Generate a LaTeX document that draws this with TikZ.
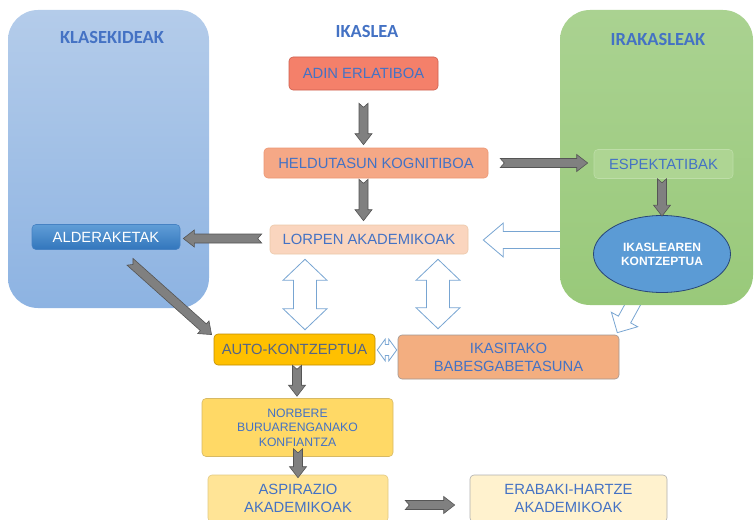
\documentclass[tikz,border=0pt]{standalone}
\usepackage{fontspec}
\setmainfont{Liberation Sans}
\newfontfamily\titlefont{Carlito}
\usetikzlibrary{calc, positioning, backgrounds, shapes.geometric}

\definecolor{txtblue}{RGB}{68,114,196}
\definecolor{autoText}{RGB}{84,100,135}
\definecolor{klaseTop}{RGB}{180,204,234}
\definecolor{klaseBot}{RGB}{141,179,226}
\definecolor{irakTop}{RGB}{170,210,145}
\definecolor{irakBot}{RGB}{153,201,122}
\definecolor{adinFill}{RGB}{244,128,106}
\definecolor{adinDraw}{RGB}{205,95,78}
\definecolor{heldFill}{RGB}{245,168,134}
\definecolor{heldDraw}{RGB}{236,150,115}
\definecolor{lorpenFill}{RGB}{250,213,190}
\definecolor{lorpenDraw}{RGB}{235,200,170}
\definecolor{alderTop}{RGB}{96,157,215}
\definecolor{alderBot}{RGB}{50,118,188}
\definecolor{alderDraw}{RGB}{70,130,195}
\definecolor{espFill}{RGB}{174,213,147}
\definecolor{espDraw}{RGB}{190,222,168}
\definecolor{ellFill}{RGB}{91,155,213}
\definecolor{ellDraw}{RGB}{40,70,120}
\definecolor{autoFill}{RGB}{255,192,0}
\definecolor{autoDraw}{RGB}{190,140,0}
\definecolor{ikasiFill}{RGB}{243,174,128}
\definecolor{ikasiDraw}{RGB}{160,150,145}
\definecolor{norbFill}{RGB}{255,217,102}
\definecolor{norbDraw}{RGB}{215,185,100}
\definecolor{aspirFill}{RGB}{255,228,150}
\definecolor{aspirDraw}{RGB}{225,200,130}
\definecolor{erabFill}{RGB}{255,242,206}
\definecolor{erabDraw}{RGB}{175,175,175}
\definecolor{arrowGray}{RGB}{128,128,128}
\definecolor{arrowDark}{RGB}{85,85,85}
\definecolor{hollowBlue}{RGB}{120,165,210}

\tikzset{
  box/.style={rectangle, rounded corners=4pt, draw, line width=0.6pt, inner sep=2pt,
    align=center, text=txtblue, font=\fontsize{14.8}{18}\selectfont},
  panel/.style={rectangle, rounded corners=30pt, draw=none},
  paneltitle/.style={text=txtblue, font=\titlefont\bfseries\fontsize{18.5}{22}\selectfont},
  blockarrow/.style={fill=arrowGray, draw=arrowDark, line width=0.6pt},
  hollow/.style={fill=white, draw=hollowBlue, line width=0.8pt},
}

% gray block arrow: from, to
\newcommand{\blockarrow}[2]{%
  \path[blockarrow] let \p1=($(#2)-(#1)$), \n1={atan2(\y1,\x1)}, \n2={veclen(\x1,\y1)} in
    [shift={(#1)}, rotate=\n1]
    (0,-4.5) -- (\n2-11,-4.5) -- (\n2-11,-8.5) -- (\n2,0) -- (\n2-11,8.5)
    -- (\n2-11,4.5) -- (0,4.5) -- (4,0) -- cycle;}

% hollow arrow: from, to, shaft half width, head half width, head length
\newcommand{\hollowarrow}[5]{%
  \path[hollow] let \p1=($(#2)-(#1)$), \n1={atan2(\y1,\x1)}, \n2={veclen(\x1,\y1)} in
    [shift={(#1)}, rotate=\n1]
    (0,-#3) -- (\n2-#5,-#3) -- (\n2-#5,-#4) -- (\n2,0) -- (\n2-#5,#4)
    -- (\n2-#5,#3) -- (0,#3) -- cycle;}

% hollow double arrow: from, to, shaft half width, head half width, head length
\newcommand{\hollowdouble}[5]{%
  \path[hollow] let \p1=($(#2)-(#1)$), \n1={atan2(\y1,\x1)}, \n2={veclen(\x1,\y1)} in
    [shift={(#1)}, rotate=\n1]
    (0,0) -- (#5,-#4) -- (#5,-#3) -- (\n2-#5,-#3) -- (\n2-#5,-#4) -- (\n2,0)
    -- (\n2-#5,#4) -- (\n2-#5,#3) -- (#5,#3) -- (#5,#4) -- cycle;}

\begin{document}
\begin{tikzpicture}[x=1pt, y=-1pt]

    \clip (0,0) rectangle (754,519);

    % Draw the two side panels
    \node[panel, top color=klaseTop, bottom color=klaseBot,
      minimum width=201pt, minimum height=298pt] (klase) at (108.5,159) {};
    \node[panel, top color=irakTop, bottom color=irakBot,
      minimum width=193pt, minimum height=295pt] (irak) at (656.5,157.5) {};

    % Add the titles
    \node[paneltitle] (klasetit) at (112,37) {KLASEKIDEAK};
    \node[paneltitle] (ikastit) at (367,31) {IKASLEA};
    \node[paneltitle] (iraktit) at (658,39) {IRAKASLEAK};

    % Draw the boxes
    \node[box, fill=adinFill, draw=adinDraw, minimum width=149pt, minimum height=33pt]
      (adin) at (363.5,73.5) {ADIN ERLATIBOA};
    \node[box, fill=heldFill, draw=heldDraw, minimum width=224pt, minimum height=30pt]
      (held) at (376,163) {HELDUTASUN KOGNITIBOA};
    \node[box, fill=lorpenFill, draw=lorpenDraw, minimum width=198pt, minimum height=29pt]
      (lorpen) at (369,239.5) {LORPEN AKADEMIKOAK};
    \node[box, top color=alderTop, bottom color=alderBot, draw=alderDraw, text=white,
      minimum width=148pt, minimum height=25pt] (alder) at (106,237) {ALDERAKETAK};
    \node[box, fill=espFill, draw=espDraw, minimum width=139pt, minimum height=29pt]
      (esp) at (663.5,164) {ESPEKTATIBAK};
    \node[ellipse, fill=ellFill, draw=ellDraw, line width=0.8pt, minimum width=137pt,
      minimum height=77pt, inner sep=0pt, align=center, text=white,
      font=\bfseries\fontsize{12}{14}\selectfont] (ikell) at (662,254) {IKASLEAREN\\KONTZEPTUA};
    \node[box, fill=autoFill, draw=autoDraw, text=autoText, minimum width=161pt,
      minimum height=31pt] (auto) at (294.5,349.5) {AUTO-KONTZEPTUA};
    \node[box, fill=ikasiFill, draw=ikasiDraw, minimum width=221pt, minimum height=44pt]
      (ikasi) at (508.5,357) {IKASITAKO\\BABESGABETASUNA};
    \node[box, fill=norbFill, draw=norbDraw, minimum width=191pt, minimum height=58pt,
      font=\fontsize{12.2}{14.5}\selectfont] (norb) at (297.5,427.5) {NORBERE\\BURUARENGANAKO\\KONFIANTZA};
    \node[box, fill=aspirFill, draw=aspirDraw, minimum width=180pt, minimum height=47pt]
      (aspir) at (298,498.5) {ASPIRAZIO\\AKADEMIKOAK};
    \node[box, fill=erabFill, draw=erabDraw, minimum width=197pt, minimum height=47pt]
      (erab) at (568.5,498.5) {ERABAKI-HARTZE\\AKADEMIKOAK};

    % Gray arrows
    \coordinate (a1) at ($(adin.south)+(0,13)$);
    \coordinate (a2) at ($(adin.south |- held.north)+(0,-3)$);
    \coordinate (b1) at ($(adin.south |- held.south)+(0,1)$);
    \coordinate (b2) at ($(adin.south |- lorpen.north)+(0,-4)$);
    \coordinate (c1) at ($(lorpen.west)+(-8,-1)$);
    \coordinate (c2) at ($(alder.east)+(3,1.5)$);
    \coordinate (d1) at ($(held.east)+(12,0)$);
    \coordinate (d2) at ($(esp.west)+(-6,-1)$);
    \coordinate (e1) at ($(esp.south)+(-1.5,0)$);
    \coordinate (e2) at ($(ikell.north)+(0,1)$);
    \coordinate (f1) at ($(alder.south)+(24,12)$);
    \coordinate (f2) at ($(auto.north west)+(-2,1)$);
    \coordinate (g1) at ($(auto.south)+(2.5,0)$);
    \coordinate (g2) at ($(auto.south |- norb.north)+(2.5,-2)$);
    \coordinate (h1) at ($(norb.south)+(0.5,-8)$);
    \coordinate (h2) at ($(aspir.north)+(0,3)$);
    \coordinate (i1) at ($(aspir.east)+(17,6.5)$);
    \coordinate (i2) at ($(erab.west)+(-15,6.5)$);
    \blockarrow{a1}{a2}
    \blockarrow{b1}{b2}
    \blockarrow{c1}{c2}
    \blockarrow{d1}{d2}
    \blockarrow{e1}{e2}
    \blockarrow{f1}{f2}
    \blockarrow{g1}{g2}
    \blockarrow{h1}{h2}
    \blockarrow{i1}{i2}

    % Hollow arrows
    \coordinate (m1) at ($(auto.north |- lorpen.south)+(10.5,5)$);
    \coordinate (m2) at ($(auto.north)+(10.5,-4)$);
    \coordinate (n1) at ($(ikasi.north |- lorpen.south)+(-70.5,5)$);
    \coordinate (n2) at ($(ikasi.north)+(-70.5,-6)$);
    \coordinate (o1) at ($(auto.east)+(2,0.5)$);
    \coordinate (o2) at ($(auto.east -| ikasi.west)+(-1,0.5)$);
    \hollowdouble{m1}{m2}{11.5}{22}{21}
    \hollowdouble{n1}{n2}{11.5}{22}{21}
    \hollowdouble{o1}{o2}{5.5}{11}{8}

    % These two come out from under the teachers panel
    \begin{pgfonlayer}{background}
    \coordinate (p1) at ($(lorpen.east -| irak.west)+(20,0.5)$);
    \coordinate (p2) at ($(lorpen.east)+(15,0.5)$);
    \hollowarrow{p1}{p2}{8.5}{17}{20}
    \coordinate (q1) at ($(irak.south)+(-6,-33)$);
    \coordinate (q2) at ($(ikasi.north east)+(-2,-2)$);
    \hollowarrow{q1}{q2}{7}{15}{15}
    \end{pgfonlayer}

\end{tikzpicture}
\end{document}
